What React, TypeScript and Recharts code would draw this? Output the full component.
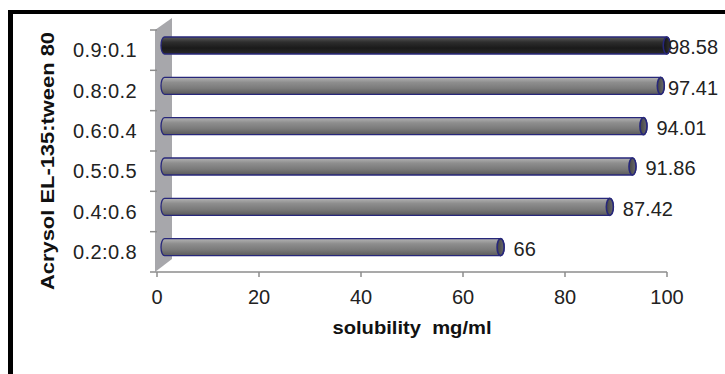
import React from "react";
import { BarChart, Bar, XAxis, YAxis, LabelList, Label } from "recharts";

const categories = ["0.9:0.1", "0.8:0.2", "0.6:0.4", "0.5:0.5", "0.4:0.6", "0.2:0.8"];
const solubility = [98.58, 97.41, 94.01, 91.86, 87.42, 66];
const xTicks = [0, 20, 40, 60, 80, 100];
const yTitle = "Acrysol EL-135:tween 80";
const xTitle = "solubility  mg/ml";
const highlighted = "0.9:0.1";

const data = categories.map((c, i) => ({ ratio: c, value: solubility[i] }));

const W = 725;
const H = 374;
const FONT = '"Liberation Sans", Arial, Helvetica, sans-serif';
const MARGIN = { top: 30, right: 58, bottom: 42, left: 20 };
const Y_AXIS_W = 137;
const X_AXIS_H = 60;
const PLOT_TOP = MARGIN.top;
const PLOT_BOTTOM = H - MARGIN.bottom - X_AXIS_H;
const BAND = (PLOT_BOTTOM - PLOT_TOP) / categories.length;
const DEPTH_X = 4;
const DEPTH_Y = 5;

const Wall = ({ plotLeft }: { plotLeft: number }) => (
  <polygon
    points={`${plotLeft - 2},${PLOT_TOP} ${plotLeft + 15},${PLOT_TOP - 12} ${plotLeft + 15},${PLOT_BOTTOM - 13} ${plotLeft - 2},${PLOT_BOTTOM}`}
    fill="#a7a7ab"
  />
);

const CylinderBar = (props: any) => {
  const { x, y, width, height, index, payload } = props;
  const dark = payload && payload.ratio === highlighted;
  const top = y - DEPTH_Y;
  const h = height;
  const left = x + DEPTH_X;
  const right = x + width + 7;
  const rx = 3.5;
  const ry = h / 2;
  const gid = `cylBody${index}`;
  const cid = `cylCap${index}`;
  const d = `M ${left + rx} ${top} L ${right} ${top} A ${rx} ${ry} 0 0 1 ${right} ${top + h} L ${left + rx} ${top + h} A ${rx} ${ry} 0 0 1 ${left + rx} ${top} Z`;
  return (
    <g>
      {index === 0 && <Wall plotLeft={x} />}
      <defs>
        <linearGradient id={gid} x1="0" y1="0" x2="0" y2="1">
          {dark ? (
            <>
              <stop offset="0%" stopColor="#5a5a5a" />
              <stop offset="30%" stopColor="#2e2e2e" />
              <stop offset="65%" stopColor="#1a1a1a" />
              <stop offset="100%" stopColor="#2a2a2a" />
            </>
          ) : (
            <>
              <stop offset="0%" stopColor="#b4b4b4" />
              <stop offset="30%" stopColor="#8e8e8e" />
              <stop offset="65%" stopColor="#7a7a7a" />
              <stop offset="100%" stopColor="#5a5a5a" />
            </>
          )}
        </linearGradient>
        <linearGradient id={cid} x1="0" y1="0" x2="1" y2="0">
          <stop offset="0%" stopColor={dark ? "#111" : "#444"} />
          <stop offset="100%" stopColor={dark ? "#333" : "#6a6a6a"} />
        </linearGradient>
      </defs>
      <path d={d} fill={`url(#${gid})`} stroke="#27277a" strokeWidth={1.3} />
      <ellipse cx={right} cy={top + h / 2} rx={rx} ry={ry} fill={`url(#${cid})`} stroke="#27277a" strokeWidth={1.6} />
    </g>
  );
};

const YTick = (props: any) => {
  const { x, y, payload, index } = props;
  const plotLeft = x + 20;
  return (
    <g>
      <line x1={plotLeft - 7} x2={plotLeft} y1={y - BAND / 2} y2={y - BAND / 2} stroke="#8c8c8c" strokeWidth={1.5} />
      {index === categories.length - 1 && (
        <line x1={plotLeft - 7} x2={plotLeft} y1={y + BAND / 2} y2={y + BAND / 2} stroke="#8c8c8c" strokeWidth={1.5} />
      )}
      <text x={x} y={y} dy="0.36em" textAnchor="end" fontFamily={FONT} fontSize={20} letterSpacing={0.4} fill="#222">
        {payload.value}
      </text>
    </g>
  );
};

const ValueLabel = (props: any) => {
  const { x, y, width, height, value } = props;
  const lx = Math.min(x + width + 20, W - 57);
  const cy = y + height / 2 - DEPTH_Y + 1.5;
  return (
    <text x={lx} y={cy} dy="0.36em" textAnchor="start" fontFamily={FONT} fontSize={20} fill="#222">
      {value}
    </text>
  );
};

export default function App() {
  return (
    <div style={{ position: "absolute", left: 0, top: 0, width: W, height: H, background: "#fff", overflow: "hidden" }}>
      <div
        style={{
          position: "absolute",
          left: 8,
          top: 10,
          width: W,
          height: H,
          borderTop: "4px solid #000",
          borderLeft: "5px solid #000",
        }}
      />
      <div style={{ position: "absolute", left: 0, top: 0 }}>
        <BarChart width={W} height={H} data={data} layout="vertical" margin={MARGIN} barSize={17}>
          <YAxis
            type="category"
            dataKey="ratio"
            width={Y_AXIS_W}
            axisLine={false}
            tickLine={false}
            tickSize={6}
            tickMargin={14}
            tick={<YTick />}
            interval={0}
          >
            <Label
              content={(p: any) => {
                const vb = p.viewBox || {};
                const cx = 47;
                const cy = vb.y + vb.height / 2 + 10;
                return (
                  <text
                    x={cx}
                    y={cy}
                    transform={`rotate(-90 ${cx} ${cy})`}
                    textAnchor="middle"
                    dy="0.36em"
                    fontFamily={FONT}
                    fontWeight="bold"
                    fontSize={19}
                    textLength={258}
                    lengthAdjust="spacingAndGlyphs"
                    fill="#111"
                  >
                    {yTitle}
                  </text>
                );
              }}
            />
          </YAxis>
          <XAxis
            type="number"
            domain={[0, 100]}
            ticks={xTicks}
            height={X_AXIS_H}
            stroke="#8c8c8c"
            axisLine={{ stroke: "#8c8c8c", strokeWidth: 1.5 }}
            tickLine={{ stroke: "#8c8c8c", strokeWidth: 1.5 }}
            tickSize={5}
            tickMargin={13}
            tick={{ fontFamily: FONT, fontSize: 20, fill: "#222" }}
          >
            <Label
              content={(p: any) => {
                const vb = p.viewBox || {};
                const cx = vb.x + vb.width / 2;
                const cy = vb.y + 62;
                return (
                  <text
                    x={cx}
                    y={cy}
                    textAnchor="middle"
                    fontFamily={FONT}
                    fontWeight="bold"
                    fontSize={19}
                    textLength={159}
                    lengthAdjust="spacingAndGlyphs"
                    fill="#111"
                    style={{ whiteSpace: "pre" }}
                  >
                    {xTitle}
                  </text>
                );
              }}
            />
          </XAxis>
          <Bar dataKey="value" isAnimationActive={false} shape={<CylinderBar />}>
            <LabelList dataKey="value" content={<ValueLabel />} />
          </Bar>
        </BarChart>
      </div>
    </div>
  );
}
